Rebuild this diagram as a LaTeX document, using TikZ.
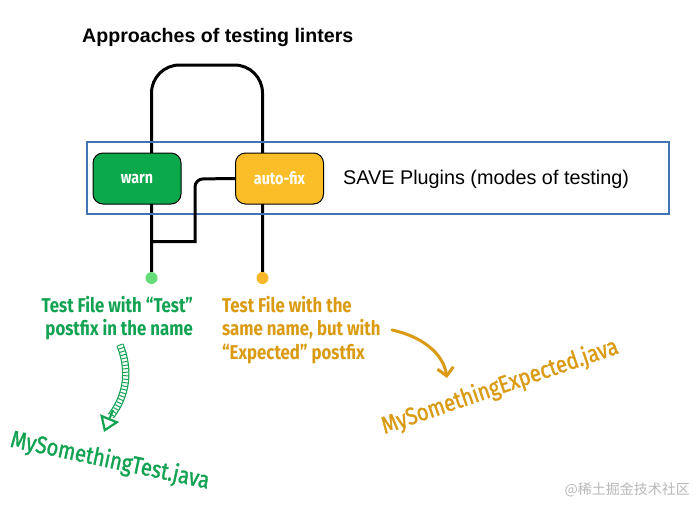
\documentclass[tikz,border=0pt]{standalone}
\usepackage{fontspec}
\setmainfont{Liberation Sans}
\newfontfamily\firacond[FakeStretch=0.84]{Fira Sans}
\newfontfamily\firamed[FakeStretch=0.84, FakeBold=1.4]{Fira Sans}
\newfontfamily\cjkfont{Noto Sans CJK SC}
\usetikzlibrary{decorations.pathreplacing,arrows.meta}
\definecolor{warngreen}{RGB}{12,168,76}
\definecolor{fixamber}{RGB}{251,190,40}
\definecolor{boxblue}{RGB}{64,116,180}
\definecolor{labgreen}{RGB}{18,163,82}
\definecolor{labgold}{RGB}{218,155,18}
\definecolor{dotgreen}{RGB}{100,220,120}
\definecolor{dotamber}{RGB}{248,182,40}
\tikzset{
  wire/.style={line width=3pt, black},
  modebox/.style={draw=black, line width=1pt, rounded corners=10pt, text=white,
    minimum width=88pt, minimum height=51pt, inner sep=0pt,
    font=\firacond\bfseries\fontsize{17}{20}\selectfont},
  enddot/.style={circle, minimum size=12pt, inner sep=0pt},
  labtext/.style={inner sep=0pt, font=\firacond\bfseries\fontsize{20}{23.5}\selectfont},
  filetext/.style={inner sep=0pt, font=\firamed\fontsize{24}{28}\selectfont},
}
\begin{document}
\begin{tikzpicture}[x=1pt,y=-1pt]
\fill[white] (0,0) rectangle (697,504);
\useasboundingbox (0,0) rectangle (697,504);

\node[anchor=base west, inner sep=0pt, font=\bfseries\fontsize{19.6}{22}\selectfont] (title) at (82,42) {Approaches of testing linters};

% end dots (positions)
\coordinate (topL) at (151.5,65);
\coordinate (topR) at (262.5,65);
\node[enddot, fill=dotgreen] (gdot) at (151.5,278) {};
\node[enddot, fill=dotamber] (adot) at (262.5,278) {};

% wires
\draw[wire, rounded corners=28pt] (gdot.north) -- (topL) -- (topR) -- (adot.north);
\coordinate (bendA) at (195,179);
\coordinate (bendB) at (195,241.5);
\coordinate (joinL) at (151.5,241.5);

% frame
\node[draw=boxblue, line width=2pt, minimum width=582pt, minimum height=72pt, anchor=north west, inner sep=0pt] (frame) at (86,141) {};

\node[modebox, fill=warngreen] (warn) at (137,178.5) {warn};
\node[modebox, fill=fixamber] (fix) at (279.5,178.5) {auto-fix};
\draw[wire, rounded corners=8pt] (fix.west) -- (bendA) [sharp corners] -- (bendB) -- (joinL);

\node[anchor=west, inner sep=0pt, font=\fontsize{19.8}{22}\selectfont] (save) at (343,179) {SAVE Plugins (modes of testing)};

% labels
\node[labtext, anchor=north east, align=right, text=labgreen] (glab) at (193,296) {Test File with “Test”\\postfix in the name};
\node[labtext, anchor=north west, align=left, text=labgold] (alab) at (222,296) {Test File with the\\same name, but with\\“Expected” postfix};

% file names
\node[filetext, rotate=-12, text=labgreen] (gfile) at (110,461) {MySomethingTest.java};
\node[filetext, rotate=19, text=labgold] (afile) at (500,387) {MySomethingExpected.java};

% green hatched arrow
\coordinate (gs) at (120,345);
\coordinate (ge) at (111,416);
\draw[labgreen, line width=1.2pt, double distance=5pt] (gs) .. controls (130,370) and (127,395) .. (ge);
\draw[labgreen, line width=1pt, decorate, decoration={ticks, segment length=3.5pt, amplitude=2.6pt}] (gs) .. controls (130,370) and (127,395) .. (ge);
\draw[labgreen, line width=2pt, -{Triangle[open, length=15pt, width=20pt, line width=2.2pt]}] (113,410) -- (104,432);

% gold arrow
\coordinate (as) at (392,330);
\coordinate (ae) at (447,378);
\draw[labgold, line width=3pt, line cap=round, -{Straight Barb[length=8pt, width=16pt, line width=3pt]}] (as) .. controls (420,336) and (443,352) .. (ae);

\node[anchor=east, inner sep=0pt, text=black!28, font=\cjkfont\fontsize{14}{16}\selectfont] (wm) at (690,490) {@稀土掘金技术社区};
\end{tikzpicture}
\end{document}
